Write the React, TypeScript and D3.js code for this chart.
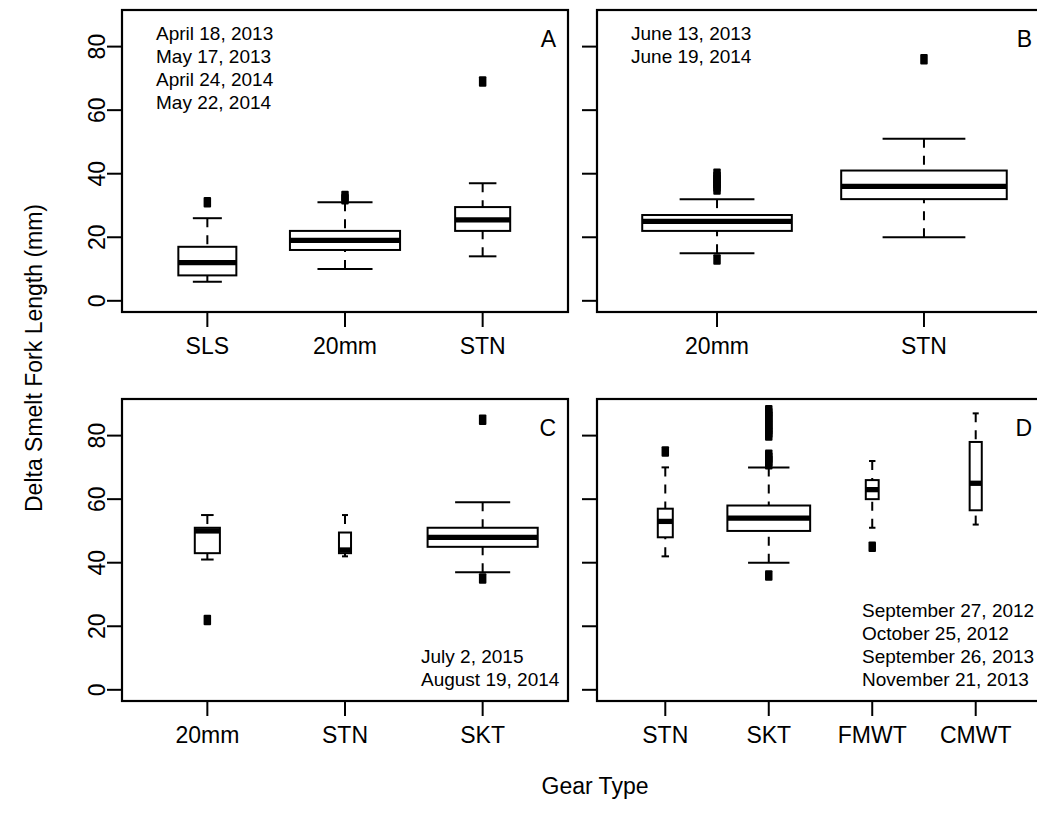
import React from "react";
import * as d3 from "d3";

// ---------- DATA ----------
const yTickValues = [0, 20, 40, 60, 80];

const panelALabels = ["SLS", "20mm", "STN"];
// [lower whisker, Q1, median, Q3, upper whisker]
const panelAStats = [
  [6, 8, 12, 17, 26],
  [10, 16, 19, 22, 31],
  [14, 22, 25.5, 29.5, 37],
];
const panelAOutliers = [[31], [32, 33], [69]];
const panelACounts = [111, 400, 100];
const panelADates = ["April 18, 2013", "May 17, 2013", "April 24, 2014", "May 22, 2014"];

const panelBLabels = ["20mm", "STN"];
const panelBStats = [
  [15, 22, 25, 27, 32],
  [20, 32, 36, 41, 51],
];
const panelBOutliers = [[13, 35, 36, 37, 38, 39, 40], [76]];
const panelBCounts = [245, 300];
const panelBDates = ["June 13, 2013", "June 19, 2014"];

const panelCLabels = ["20mm", "STN", "SKT"];
const panelCStats = [
  [41, 43, 50, 51, 55],
  [42, 43, 44, 49.5, 55],
  [37, 45, 48, 51, 59],
];
const panelCOutliers = [[22], [], [35, 85]];
const panelCCounts = [26, 6, 500];
const panelCDates = ["July 2, 2015", "August 19, 2014"];

const panelDLabels = ["STN", "SKT", "FMWT", "CMWT"];
const panelDStats = [
  [42, 48, 53, 57, 70],
  [40, 50, 54, 58, 70],
  [51, 60, 63, 66, 72],
  [52, 56.5, 65, 78, 87],
];
const panelDOutliers = [
  [75],
  [36, 71, 72, 73, 74, 80, 81, 82, 83, 84, 85, 86, 87, 88],
  [45],
  [],
];
const panelDCounts = [23, 700, 17, 15];
const panelDDates = ["September 27, 2012", "October 25, 2012", "September 26, 2013", "November 21, 2013"];

const yLimits = [0, 88];

// ---------- LAYOUT ----------
const FONT = "'Liberation Sans', Arial, Helvetica, sans-serif";
const W = 1037;
const H = 824;

type PanelProps = {
  x0: number; x1: number; y0: number; y1: number;
  labels: string[]; stats: number[][]; outliers: number[][]; counts: number[];
  dates: string[]; dateX: number; dateY: number;
  letter: string; showYLabels: boolean;
};

function Panel(p: PanelProps) {
  const n = p.labels.length;
  const x = d3.scaleLinear().domain([0.5 - 0.04 * n, n + 0.5 + 0.04 * n]).range([p.x0, p.x1]);
  const span = yLimits[1] - yLimits[0];
  const y = d3.scaleLinear()
    .domain([yLimits[0] - 0.04 * span, yLimits[1] + 0.04 * span])
    .range([p.y1, p.y0]);
  const maxN = d3.max(p.counts) as number;
  const unit = x(2) - x(1);
  const tickLen = 15;

  return (
    <g>
      {/* boxes */}
      {p.stats.map((s, i) => {
        const cx = x(i + 1);
        const bw = 0.8 * unit * Math.sqrt(p.counts[i] / maxN);
        const sw = bw / 2;
        return (
          <g key={i}>
            <line x1={cx} x2={cx} y1={y(s[4])} y2={y(s[3])} stroke="#000" strokeWidth={2} strokeDasharray="9,8" />
            <line x1={cx} x2={cx} y1={y(s[0])} y2={y(s[1])} stroke="#000" strokeWidth={2} strokeDasharray="9,8" />
            <line x1={cx - sw / 2} x2={cx + sw / 2} y1={y(s[4])} y2={y(s[4])} stroke="#000" strokeWidth={2} />
            <line x1={cx - sw / 2} x2={cx + sw / 2} y1={y(s[0])} y2={y(s[0])} stroke="#000" strokeWidth={2} />
            <rect x={cx - bw / 2} y={y(s[3])} width={bw} height={y(s[1]) - y(s[3])} fill="#fff" stroke="#000" strokeWidth={2} />
            <line x1={cx - bw / 2} x2={cx + bw / 2} y1={y(s[2])} y2={y(s[2])} stroke="#000" strokeWidth={5.3} />
            {p.outliers[i].map((o, j) => (
              <rect key={j} x={cx - 3.75} y={y(o) - 5.25} width={7.5} height={10.5} rx={1} fill="#000" />
            ))}
          </g>
        );
      })}
      {/* frame */}
      <rect x={p.x0} y={p.y0} width={p.x1 - p.x0} height={p.y1 - p.y0} fill="none" stroke="#000" strokeWidth={2.2} />
      {/* x axis ticks */}
      {p.labels.map((l, i) => (
        <g key={l}>
          <line x1={x(i + 1)} x2={x(i + 1)} y1={p.y1} y2={p.y1 + tickLen} stroke="#000" strokeWidth={2} />
          <text x={x(i + 1)} y={p.y1 + 42} textAnchor="middle" fontSize={23} fontFamily={FONT}>{l}</text>
        </g>
      ))}
      {/* y axis ticks */}
      {yTickValues.map((v) => (
        <g key={v}>
          <line x1={p.x0 - tickLen} x2={p.x0} y1={y(v)} y2={y(v)} stroke="#000" strokeWidth={2} />
          {p.showYLabels && (
            <text transform={`translate(${p.x0 - 17},${y(v)}) rotate(-90)`} textAnchor="middle" fontSize={23} fontFamily={FONT}>{v}</text>
          )}
        </g>
      ))}
      {/* dates */}
      {p.dates.map((d, i) => (
        <text key={d} x={p.dateX} y={p.dateY + i * 23} fontSize={19} fontFamily={FONT}>{d}</text>
      ))}
      <text x={p.x1 - 12} y={p.y0 + 37} textAnchor="end" fontSize={23} fontFamily={FONT}>{p.letter}</text>
    </g>
  );
}

export default function App() {
  return (
    <svg width={W} height={H} style={{ position: "absolute", left: 0, top: 0, background: "#fff" }}>
      <rect x={0} y={0} width={W} height={H} fill="#fff" />
      <Panel x0={122} x1={568} y0={10} y1={312} labels={panelALabels} stats={panelAStats} outliers={panelAOutliers}
        counts={panelACounts} dates={panelADates} dateX={156} dateY={40} letter="A" showYLabels={true} />
      <Panel x0={597} x1={1044} y0={10} y1={312} labels={panelBLabels} stats={panelBStats} outliers={panelBOutliers}
        counts={panelBCounts} dates={panelBDates} dateX={631} dateY={40} letter="B" showYLabels={false} />
      <Panel x0={122} x1={568} y0={399} y1={701} labels={panelCLabels} stats={panelCStats} outliers={panelCOutliers}
        counts={panelCCounts} dates={panelCDates} dateX={421} dateY={663} letter="C" showYLabels={true} />
      <Panel x0={597} x1={1044} y0={399} y1={701} labels={panelDLabels} stats={panelDStats} outliers={panelDOutliers}
        counts={panelDCounts} dates={panelDDates} dateX={862} dateY={617} letter="D" showYLabels={false} />
      <text transform="translate(42,358) rotate(-90)" textAnchor="middle" fontSize={23} fontFamily={FONT}>Delta Smelt Fork Length (mm)</text>
      <text x={595} y={794} textAnchor="middle" fontSize={23} fontFamily={FONT}>Gear Type</text>
    </svg>
  );
}
